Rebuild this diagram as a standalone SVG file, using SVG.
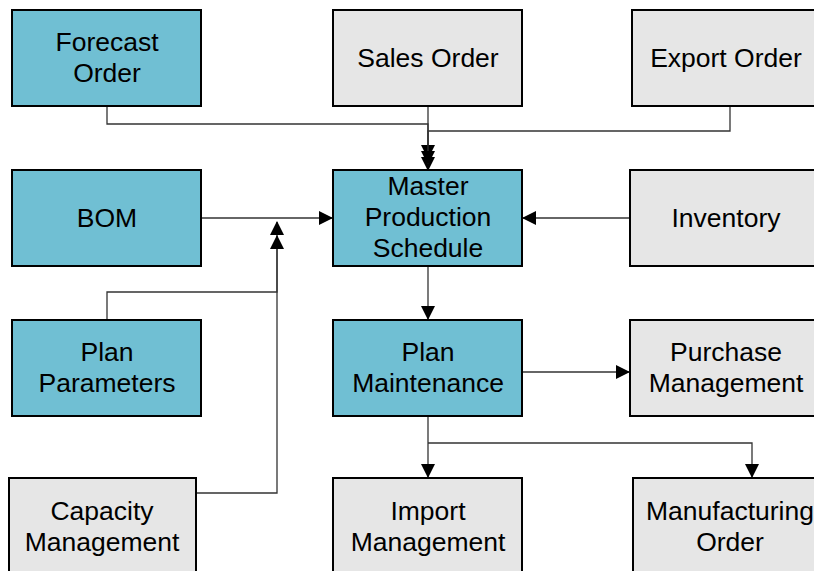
<svg xmlns="http://www.w3.org/2000/svg" width="814" height="571" viewBox="0 0 814 571">
<style>
.b{fill:#70BFD3;stroke:#000;stroke-width:2}
.g{fill:#E6E6E6;stroke:#000;stroke-width:2}
text{font-family:"Liberation Sans",Arial,sans-serif;font-size:26.5px;fill:#000;text-anchor:middle}
.c{fill:none;stroke:#333;stroke-width:1.3}
</style>
<defs>
<marker id="a" markerWidth="14" markerHeight="14" refX="13" refY="7" orient="auto" markerUnits="userSpaceOnUse">
<path d="M0,0 L14,7 L0,14 Z" fill="#000"/>
</marker>
</defs>
<rect width="814" height="571" fill="#fff"/>
<g id="connectors">
<path class="c" d="M107,106 V124 H428 V170" marker-end="url(#a)"/>
<path class="c" d="M428,106 V158" marker-end="url(#a)"/>
<path class="c" d="M730,106 V131 H428 V164" marker-end="url(#a)"/>
<path class="c" d="M201,218 H332" marker-end="url(#a)"/>
<path class="c" d="M630,218 H523" marker-end="url(#a)"/>
<path class="c" d="M107,320 V292 H277 V222" marker-end="url(#a)"/>
<path class="c" d="M196,493 H277 V236" marker-end="url(#a)"/>
<path class="c" d="M428,266 V319" marker-end="url(#a)"/>
<path class="c" d="M522,372 H629" marker-end="url(#a)"/>
<path class="c" d="M428,416 V477" marker-end="url(#a)"/>
<path class="c" d="M428,443 H752 V477" marker-end="url(#a)"/>
</g>
<g id="forecast"><rect class="b" x="12" y="10" width="189" height="96"/><text x="107" y="51">Forecast</text><text x="107" y="82">Order</text></g>
<g id="sales"><rect class="g" x="333" y="10" width="189" height="96"/><text x="428" y="67">Sales Order</text></g>
<g id="export"><rect class="g" x="632" y="10" width="190" height="96"/><text x="726" y="67">Export Order</text></g>
<g id="bom"><rect class="b" x="12" y="170" width="189" height="96"/><text x="107" y="227">BOM</text></g>
<g id="mps"><rect class="b" x="333" y="170" width="189" height="96"/><text x="428" y="195">Master</text><text x="428" y="226">Production</text><text x="428" y="257">Schedule</text></g>
<g id="inventory"><rect class="g" x="630" y="170" width="192" height="96"/><text x="726" y="227">Inventory</text></g>
<g id="planparams"><rect class="b" x="12" y="320" width="189" height="96"/><text x="107" y="361">Plan</text><text x="107" y="392">Parameters</text></g>
<g id="planmaint"><rect class="b" x="333" y="320" width="189" height="96"/><text x="428" y="361">Plan</text><text x="428" y="392">Maintenance</text></g>
<g id="purchase"><rect class="g" x="630" y="320" width="192" height="96"/><text x="726" y="361">Purchase</text><text x="726" y="392">Management</text></g>
<g id="capacity"><rect class="g" x="9" y="478" width="187" height="100"/><text x="102" y="520">Capacity</text><text x="102" y="551">Management</text></g>
<g id="import"><rect class="g" x="333" y="478" width="189" height="100"/><text x="428" y="520">Import</text><text x="428" y="551">Management</text></g>
<g id="mfg"><rect class="g" x="633" y="478" width="189" height="100"/><text x="730" y="520">Manufacturing</text><text x="730" y="551">Order</text></g>
</svg>
